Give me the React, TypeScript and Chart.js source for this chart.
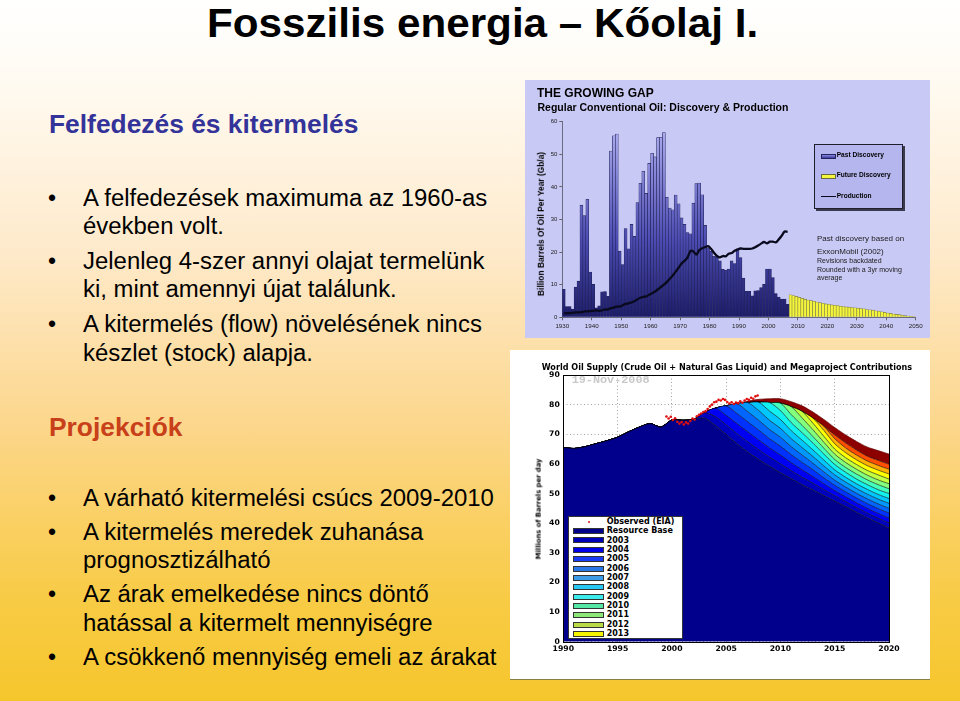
import React, { useEffect, useRef } from "react";
import { Chart, registerables } from "chart.js";

Chart.register(...registerables);

const FONT = "'Liberation Sans', Arial, Helvetica, sans-serif";
const MFONT = "'DejaVu Sans', Verdana, sans-serif";

// ---------------- Top chart: THE GROWING GAP ----------------
const GAP_TICKS = [1930, 1940, 1950, 1960, 1970, 1980, 1990, 2000, 2010, 2020, 2030, 2040, 2050];
const GAP_Y_TICKS = [0, 10, 20, 30, 40, 50, 60];

const PAST_DISCOVERY_START = 1930;
const PAST_DISCOVERY = [
  8.6, 3.3, 3.3, 2.5, 9.3, 11.1, 34.4, 31.2, 36.2, 13.9,
  10.1, 2.9, 3.5, 7.8, 7.9, 6.4, 51.0, 55.7, 56.2, 20.3,
  16.2, 27.2, 21.0, 28.5, 24.8, 35.2, 41.1, 44.8, 38.0, 47.2,
  50.3, 49.2, 55.1, 55.2, 56.7, 36.8, 33.5, 33.0, 37.5, 34.8,
  30.5, 28.5, 26.0, 25.6, 35.0, 41.0, 41.2, 37.6, 28.2, 21.3,
  20.3, 18.7, 18.5, 17.3, 14.7, 14.5, 14.8, 17.3, 16.5, 21.0,
  18.3, 12.0, 8.0, 8.0, 6.6, 8.1, 8.2, 9.1, 10.1, 14.8,
  14.8, 12.2, 7.3, 6.2, 5.6, 5.6, 4.0,
];

const FUTURE_DISCOVERY_START = 2007;
const FUTURE_DISCOVERY = [
  6.9, 6.7, 6.4, 6.1, 5.8, 5.5, 5.3, 5.1, 4.9, 4.7,
  4.5, 4.3, 4.1, 4.0, 3.8, 3.7, 3.6, 3.4, 3.3, 3.2,
  3.1, 3.0, 2.9, 2.8, 2.7, 2.6, 2.4, 2.3, 2.2, 2.0,
  1.9, 1.7, 1.5, 1.3, 1.2, 1.0, 0.9, 0.8, 0.6, 0.5,
  0.4, 0.3, 0.2,
];

const PRODUCTION_START = 1930;
const PRODUCTION = [
  1.2, 1.3, 1.3, 1.4, 1.5, 1.5, 1.6, 1.8, 1.8, 1.9,
  2.0, 2.1, 2.0, 2.1, 2.4, 2.4, 2.8, 3.0, 3.3, 3.3,
  3.7, 4.1, 4.3, 4.6, 4.9, 5.5, 6.0, 6.3, 6.4, 6.9,
  7.4, 7.9, 8.6, 9.3, 10.0, 10.8, 11.8, 12.8, 14.0, 15.2,
  16.5, 17.3, 18.3, 20.3, 20.2, 19.2, 20.6, 21.2, 21.5, 21.8,
  21.0, 19.8, 18.8, 18.4, 18.8, 18.7, 19.5, 19.7, 20.4, 20.8,
  21.1, 21.0, 21.0, 21.0, 21.1, 21.5, 22.0, 22.6, 23.1, 22.7,
  23.2, 23.2, 23.0, 23.9, 25.0, 26.3, 26.2,
];

// ---------------- Bottom chart: World Oil Supply ----------------
const SUPPLY_START = 1990;
const SUPPLY_X_TICKS = [1990, 1995, 2000, 2005, 2010, 2015, 2020];
const SUPPLY_Y_TICKS = [0, 10, 20, 30, 40, 50, 60, 70, 80, 90];

const RESOURCE_BASE = [
  65.5, 65.2, 65.8, 66.8, 67.8, 69.0, 70.8, 72.4, 73.6, 72.4,
  74.8, 74.7, 75.0, 75.5, 73.0, 70.0, 66.8, 64.0, 61.5, 59.2,
  57.0, 55.0, 53.0, 51.2, 49.3, 47.5, 45.6, 43.7, 41.8, 40.1,
  38.4,
];

// megaproject layers, values for 2003..2020
const MEGA_START = 2003;
const MEGA_2003 = [1.8, 3.0, 3.2, 3.4, 3.4, 3.3, 3.1, 3.0, 2.7, 2.5, 2.3, 2.0, 1.8, 1.7, 1.6, 1.6, 1.6, 1.7];
const MEGA_2004 = [0, 2.8, 3.2, 3.4, 3.4, 3.3, 3.1, 3.0, 2.7, 2.5, 2.2, 2.0, 1.7, 1.6, 1.6, 1.6, 1.6, 1.6];
const MEGA_2005 = [0, 0, 3.2, 3.4, 3.4, 3.3, 3.1, 3.0, 2.7, 2.5, 2.3, 2.0, 1.8, 1.7, 1.6, 1.6, 1.6, 1.7];
const MEGA_2006 = [0, 0, 0, 3.3, 3.4, 3.3, 3.1, 3.0, 2.7, 2.5, 2.2, 2.0, 1.7, 1.6, 1.6, 1.6, 1.6, 1.6];
const MEGA_2007 = [0, 0, 0, 0, 3.1, 3.3, 3.1, 3.0, 2.7, 2.5, 2.3, 2.0, 1.8, 1.7, 1.6, 1.6, 1.6, 1.7];
const MEGA_2008 = [0, 0, 0, 0, 0, 2.8, 3.1, 3.0, 2.7, 2.5, 2.2, 2.0, 1.7, 1.6, 1.6, 1.6, 1.6, 1.6];
const MEGA_2009 = [0, 0, 0, 0, 0, 0, 2.9, 3.0, 2.7, 2.5, 2.3, 2.0, 1.8, 1.7, 1.6, 1.6, 1.6, 1.7];
const MEGA_2010 = [0, 0, 0, 0, 0, 0, 0, 2.5, 2.7, 2.5, 2.2, 2.0, 1.7, 1.6, 1.7, 1.6, 1.7, 1.6];
const MEGA_2011 = [0, 0, 0, 0, 0, 0, 0, 0, 2.7, 2.5, 2.3, 2.0, 1.8, 1.7, 1.6, 1.6, 1.6, 1.7];
const MEGA_2012 = [0, 0, 0, 0, 0, 0, 0, 0, 0, 2.2, 2.2, 2.0, 1.7, 1.6, 1.6, 1.6, 1.7, 1.6];
const MEGA_2013 = [0, 0, 0, 0, 0, 0, 0, 0, 0, 0, 1.7, 2.0, 1.8, 1.7, 1.6, 1.6, 1.6, 1.7];
const MEGA_2014 = [0, 0, 0, 0, 0, 0, 0, 0, 0, 0, 0, 1.4, 1.7, 1.6, 1.6, 1.6, 1.6, 1.6];
const MEGA_2015 = [0, 0, 0, 0, 0, 0, 0, 0, 0, 0, 0, 0, 1.3, 1.7, 1.7, 1.6, 1.7, 1.7];
const MEGA_TOP = [0, 0, 0, 0, 0.5, 1.0, 1.3, 1.5, 1.7, 1.9, 2.1, 2.3, 2.5, 2.7, 2.9, 3.1, 3.3, 3.4];

const OBSERVED_EIA: [number, number][] = [
  [1999.5, 76.0], [1999.7, 75.3], [1999.9, 75.9], [2000.1, 74.8], [2000.3, 75.4], [2000.5, 74.2],
  [2000.7, 73.6], [2000.9, 74.1], [2001.1, 73.3], [2001.3, 74.0], [2001.5, 73.6], [2001.7, 74.5],
  [2001.9, 75.3], [2002.1, 75.0], [2002.3, 76.1], [2002.5, 76.6], [2002.7, 77.0], [2002.9, 77.5],
  [2003.1, 77.8], [2003.3, 78.5], [2003.5, 79.4], [2003.7, 80.0], [2003.9, 80.8], [2004.1, 81.0],
  [2004.3, 81.6], [2004.5, 81.4], [2004.7, 81.9], [2004.9, 81.6], [2005.1, 80.9], [2005.3, 80.4],
  [2005.5, 80.8], [2005.7, 80.2], [2005.9, 80.7], [2006.1, 80.5], [2006.3, 81.1], [2006.5, 80.6],
  [2006.7, 81.4], [2006.9, 81.9], [2007.1, 81.6], [2007.3, 82.3], [2007.5, 82.0], [2007.7, 82.8],
  [2007.9, 83.1],
];

const LAYERS = [
  { label: "Resource Base", color: "#00008c", legend: "#00008c" },
  { label: "2003", color: "#0000c0", legend: "#0000b8", values: MEGA_2003 },
  { label: "2004", color: "#0000f2", legend: "#0000e8", values: MEGA_2004 },
  { label: "2005", color: "#0032ff", legend: "#1a3cf5", values: MEGA_2005 },
  { label: "2006", color: "#0066ff", legend: "#2a78e6", values: MEGA_2006 },
  { label: "2007", color: "#0098ff", legend: "#3c9ce8", values: MEGA_2007 },
  { label: "2008", color: "#00c8ff", legend: "#28c8f0", values: MEGA_2008 },
  { label: "2009", color: "#12f0f0", legend: "#3cecec", values: MEGA_2009 },
  { label: "2010", color: "#44ffbc", legend: "#55e6a5", values: MEGA_2010 },
  { label: "2011", color: "#84ff7c", legend: "#8ce678", values: MEGA_2011 },
  { label: "2012", color: "#c2ff3e", legend: "#b9dc46", values: MEGA_2012 },
  { label: "2013", color: "#ffff00", legend: "#f5f500", values: MEGA_2013 },
  { label: "2014", color: "#ffb000", legend: "", values: MEGA_2014 },
  { label: "2015", color: "#ff4e00", legend: "", values: MEGA_2015 },
  { label: "2016+", color: "#8c0000", legend: "", values: MEGA_TOP },
];

// ---------------------------------------------------------------
const frame = {
  id: "frame",
  afterDraw(chart: any) {
    const { ctx, chartArea: a } = chart;
    ctx.save();
    ctx.strokeStyle = "#000";
    ctx.lineWidth = 1;
    ctx.strokeRect(Math.round(a.left) + 0.5, Math.round(a.top) + 0.5, Math.round(a.right - a.left), Math.round(a.bottom - a.top));
    ctx.restore();
  },
};

function topConfig(): any {
  const past = PAST_DISCOVERY.map((v, i) => ({ x: PAST_DISCOVERY_START + i + 0.5, y: v }));
  const future = FUTURE_DISCOVERY.map((v, i) => ({ x: FUTURE_DISCOVERY_START + i + 0.5, y: v }));
  const prod = PRODUCTION.map((v, i) => ({ x: PRODUCTION_START + i + 0.5, y: v }));
  const barGrad = (ctx: any) => {
    const chart = ctx.chart;
    const a = chart.chartArea;
    if (!a) return "#5555bb";
    const g = chart.ctx.createLinearGradient(0, a.bottom, 0, a.top);
    g.addColorStop(0, "#1b1b68");
    g.addColorStop(0.4, "#4d4db4");
    g.addColorStop(1, "#b4b4f4");
    return g;
  };
  return {
    type: "bar",
    data: {
      datasets: [
        {
          type: "line",
          label: "Production",
          data: prod,
          borderColor: "#0a0a1e",
          borderWidth: 2.3,
          pointRadius: 0,
          tension: 0.3,
          order: -1,
        },
        {
          label: "Past Discovery",
          data: past,
          backgroundColor: barGrad,
          borderColor: "#22225a",
          borderWidth: 0.6,
          barPercentage: 1,
          categoryPercentage: 1,
          grouped: false,
        },
        {
          label: "Future Discovery",
          data: future,
          backgroundColor: "#f4f43a",
          borderColor: "#7c7c4c",
          borderWidth: 0.6,
          barPercentage: 1,
          categoryPercentage: 1,
          grouped: false,
        },
      ],
    },
    options: {
      animation: false,
      responsive: false,
      maintainAspectRatio: false,
      layout: { padding: { top: 41.7, right: 14.3, left: 0, bottom: 0 } },
      plugins: { legend: { display: false }, tooltip: { enabled: false } },
      scales: {
        x: {
          type: "linear",
          offset: false,
          min: GAP_TICKS[0],
          max: GAP_TICKS[GAP_TICKS.length - 1],
          afterBuildTicks: (s: any) => {
            s.ticks = GAP_TICKS.map((v) => ({ value: v }));
          },
          ticks: {
            callback: (v: any) => String(v),
            font: { family: FONT, size: 6.2 },
            color: "#222",
            padding: 2,
            maxRotation: 0,
            autoSkip: false,
          },
          grid: { offset: false, drawOnChartArea: false, drawTicks: true, tickLength: 3, color: "#666" },
          border: { color: "#6a6a80", width: 1 },
          afterFit: (s: any) => {
            s.height = 20.7;
          },
        },
        y: {
          min: 0,
          max: 60,
          afterBuildTicks: (s: any) => {
            s.ticks = GAP_Y_TICKS.map((v) => ({ value: v }));
          },
          ticks: { font: { family: FONT, size: 6 }, color: "#222", padding: 2 },
          grid: { drawOnChartArea: false, drawTicks: true, tickLength: 3, color: "#666" },
          border: { color: "#6a6a80", width: 1 },
          afterFit: (s: any) => {
            s.width = 37.3;
          },
        },
      },
    },
  };
}

function bottomConfig(): any {
  const years = RESOURCE_BASE.map((_, i) => SUPPLY_START + i);
  const datasets: any[] = LAYERS.map((layer, li) => {
    const data = years.map((yr, i) => {
      if (li === 0) return { x: yr, y: RESOURCE_BASE[i] };
      const k = yr - MEGA_START;
      return { x: yr, y: k >= 0 ? (layer.values as number[])[k] : 0 };
    });
    return {
      label: layer.label,
      data,
      backgroundColor: layer.color,
      borderColor: li === LAYERS.length - 1 ? "#5a0000" : "#000",
      borderWidth: 0.6,
      pointRadius: 0,
      fill: li === 0 ? "origin" : "-1",
      tension: 0.25,
      stack: "supply",
    };
  });
  datasets.push({
    label: "Observed (EIA)",
    data: OBSERVED_EIA.map(([x, y]) => ({ x, y })),
    showLine: false,
    pointRadius: 1.3,
    pointBorderWidth: 0,
    pointBackgroundColor: "#e01010",
    borderColor: "#e01010",
    fill: false,
    stack: "observed",
    order: -1,
  });
  return {
    type: "line",
    data: { datasets },
    options: {
      animation: false,
      responsive: false,
      maintainAspectRatio: false,
      layout: { padding: { top: 25, right: 41, left: 0, bottom: 0 } },
      plugins: { legend: { display: false }, tooltip: { enabled: false } },
      scales: {
        x: {
          type: "linear",
          min: SUPPLY_X_TICKS[0],
          max: SUPPLY_X_TICKS[SUPPLY_X_TICKS.length - 1],
          afterBuildTicks: (s: any) => {
            s.ticks = SUPPLY_X_TICKS.map((v) => ({ value: v }));
          },
          ticks: {
            callback: (v: any) => String(v),
            font: { family: MFONT, size: 7.7, weight: "bold" },
            color: "#000",
            padding: 3,
            maxRotation: 0,
            autoSkip: false,
          },
          grid: { color: "#8a8a8a", lineWidth: 0.8, drawTicks: false },
          border: { display: false, dash: [1, 2.5] },
          afterFit: (s: any) => {
            s.height = 37.3;
          },
        },
        y: {
          stacked: true,
          min: 0,
          max: 90,
          afterBuildTicks: (s: any) => {
            s.ticks = SUPPLY_Y_TICKS.map((v) => ({ value: v }));
          },
          ticks: {
            font: { family: MFONT, size: 7.7, weight: "bold" },
            color: "#000",
            padding: 3.5,
          },
          grid: { color: "#8a8a8a", lineWidth: 0.8, drawTicks: false },
          border: { display: false, dash: [1, 2.5] },
          afterFit: (s: any) => {
            s.width = 53.3;
          },
        },
      },
    },
    plugins: [frame],
  };
}

// ---------------------------------------------------------------
type TxtProps = {
  x: number;
  base: number;
  size: number;
  bold?: boolean;
  color?: string;
  family?: string;
  sx?: number;
  style?: React.CSSProperties;
  children: React.ReactNode;
};

function Txt({ x, base, size, bold = false, color = "#000", family = FONT, sx = 1, style = {}, children }: TxtProps) {
  return (
    <div
      style={{
        position: "absolute",
        left: x,
        top: base - 0.846 * size,
        fontSize: size,
        lineHeight: `${size}px`,
        fontFamily: family,
        fontWeight: bold ? 700 : 400,
        color,
        whiteSpace: "nowrap",
        transform: sx !== 1 ? `scaleX(${sx})` : undefined,
        transformOrigin: "0 0",
        ...style,
      }}
    >
      {children}
    </div>
  );
}

function VTxt({ cx, cy, size, bold = true, family = FONT, children }: any) {
  return (
    <div
      style={{
        position: "absolute",
        left: cx,
        top: cy,
        fontSize: size,
        lineHeight: `${size}px`,
        fontFamily: family,
        fontWeight: bold ? 700 : 400,
        color: "#000",
        whiteSpace: "nowrap",
        transform: "translate(-50%, -50%) rotate(-90deg)",
      }}
    >
      {children}
    </div>
  );
}

const BULLET_SIZE = 23;
const BULLET_SX = 1.04;
const HEAD_SIZE = 25;
const HEAD_SX = 1.055;

function Bullet({ base }: { base: number }) {
  return (
    <Txt x={48} base={base} size={BULLET_SIZE}>
      •
    </Txt>
  );
}

function Line({ base, children }: { base: number; children: React.ReactNode }) {
  return (
    <Txt x={83.3} base={base} size={BULLET_SIZE} sx={BULLET_SX}>
      {children}
    </Txt>
  );
}

export default function App() {
  const topRef = useRef<HTMLCanvasElement>(null);
  const botRef = useRef<HTMLCanvasElement>(null);

  useEffect(() => {
    const c1 = new Chart(topRef.current as HTMLCanvasElement, topConfig());
    const c2 = new Chart(botRef.current as HTMLCanvasElement, bottomConfig());
    return () => {
      c1.destroy();
      c2.destroy();
    };
  }, []);

  const legendRows = LAYERS.filter((l) => l.legend !== "");
  const LEG_Y0 = 521.7;
  const LEG_DY = 9.36;

  return (
    <div
      style={{
        position: "absolute",
        left: 0,
        top: 0,
        width: 960,
        height: 701,
        overflow: "hidden",
        background:
          "linear-gradient(180deg, #ffffff 0px, #fffcf6 60px, #fff4e2 150px, #feeacb 250px, #fde0ab 340px, #fcd68a 430px, #fad064 520px, #f8cb45 600px, #f6c62c 701px)",
        fontFamily: FONT,
      }}
    >
      {/* Slide title */}
      <Txt x={207} base={36.5} size={40} bold sx={1.055}>
        Fosszilis energia – Kőolaj I.
      </Txt>

      {/* Section 1 */}
      <Txt x={48.5} base={132.7} size={HEAD_SIZE} bold color="#333399" sx={HEAD_SX}>
        Felfedezés és kitermelés
      </Txt>
      <Bullet base={206} />
      <Line base={206}>A felfedezések maximuma az 1960-as</Line>
      <Line base={234.5}>években volt.</Line>
      <Bullet base={269.3} />
      <Line base={269.3}>Jelenleg 4-szer annyi olajat termelünk</Line>
      <Line base={297.7}>ki, mint amennyi újat találunk.</Line>
      <Bullet base={332.7} />
      <Line base={332.7}>A kitermelés (flow) növelésének nincs</Line>
      <Line base={361.3}>készlet (stock) alapja.</Line>

      {/* Section 2 */}
      <Txt x={48.5} base={436} size={HEAD_SIZE} bold color="#c8401a" sx={HEAD_SX}>
        Projekciók
      </Txt>
      <Bullet base={506} />
      <Line base={506}>A várható kitermelési csúcs 2009-2010</Line>
      <Bullet base={540} />
      <Line base={540}>A kitermelés meredek zuhanása</Line>
      <Line base={568.5}>prognosztizálható</Line>
      <Bullet base={602.7} />
      <Line base={602.7}>Az árak emelkedése nincs döntő</Line>
      <Line base={631}>hatással a kitermelt mennyiségre</Line>
      <Bullet base={665} />
      <Line base={665}>A csökkenő mennyiség emeli az árakat</Line>

      {/* ---------- Top chart ---------- */}
      <div style={{ position: "absolute", left: 525, top: 80, width: 405, height: 258, background: "#c9c9f5" }}>
        <canvas ref={topRef} width={405} height={258} style={{ display: "block", width: 405, height: 258 }} />
      </div>
      <Txt x={537} base={97.3} size={12} bold>THE GROWING GAP</Txt>
      <Txt x={537.5} base={110.7} size={10.5} bold>Regular Conventional Oil: Discovery &amp; Production</Txt>
      <VTxt cx={541} cy={224} size={8.4}>Billion Barrels Of Oil Per Year (Gb/a)</VTxt>

      {/* legend */}
      <div
        style={{
          position: "absolute",
          left: 814,
          top: 144,
          width: 87,
          height: 63,
          background: "#b6b6ef",
          border: "1px solid #1e1e2e",
          boxShadow: "2px 2px 0 #3a3a4a",
        }}
      />
      <div
        style={{
          position: "absolute",
          left: 821,
          top: 153.5,
          width: 13,
          height: 3,
          background: "linear-gradient(180deg, #8a8ae0, #3a3a9c)",
          border: "0.8px solid #22225a",
        }}
      />
      <div style={{ position: "absolute", left: 821, top: 174.2, width: 13, height: 3, background: "#f4f43a", border: "0.8px solid #6a6a40" }} />
      <div style={{ position: "absolute", left: 821, top: 195.5, width: 15, height: 1.8, background: "#0a0a1e" }} />
      <Txt x={836.7} base={157.3} size={6.6} bold>Past Discovery</Txt>
      <Txt x={836.7} base={178} size={6.6} bold>Future Discovery</Txt>
      <Txt x={836.7} base={198.6} size={6.6} bold>Production</Txt>

      {/* annotation */}
      <Txt x={817} base={242.2} size={8} color="#1a1a1a">Past discovery based on</Txt>
      <Txt x={817} base={255.2} size={8} color="#1a1a1a">ExxonMobil (2002)</Txt>
      <Txt x={817} base={263.3} size={7} color="#1a1a1a">Revisions backdated</Txt>
      <Txt x={817} base={271.8} size={7} color="#1a1a1a">Rounded with a 3yr moving</Txt>
      <Txt x={817} base={280.2} size={7} color="#1a1a1a">average</Txt>

      {/* ---------- Bottom chart ---------- */}
      <div
        style={{
          position: "absolute",
          left: 510,
          top: 350,
          width: 420,
          height: 330,
          background: "#ffffff",
          borderBottom: "1px solid #8c8040",
          boxSizing: "border-box",
        }}
      >
        <canvas ref={botRef} width={420} height={329} style={{ display: "block", width: 420, height: 329 }} />
      </div>
      <Txt x={541.7} base={369.4} size={8.1} bold family={MFONT}>
        World Oil Supply (Crude Oil + Natural Gas Liquid) and Megaproject Contributions
      </Txt>
      <Txt x={571.7} base={384.6} size={11.8} bold family="'Liberation Mono', 'DejaVu Sans Mono', monospace" color="#c9c9c9">
        19-Nov-2008
      </Txt>
      <VTxt cx={539} cy={509} size={6.8} family={MFONT}>Millions of Barrels per day</VTxt>

      {/* legend box */}
      <div
        style={{
          position: "absolute",
          left: 568.3,
          top: 516,
          width: 114.4,
          height: 123.3,
          background: "#fff",
          border: "1px solid #333",
          boxSizing: "border-box",
        }}
      />
      <div
        style={{
          position: "absolute",
          left: 588,
          top: LEG_Y0 - 1,
          width: 2,
          height: 2,
          borderRadius: 1,
          background: "#e01010",
        }}
      />
      <Txt x={606.7} base={LEG_Y0 + 2.9} size={8} bold family={MFONT}>Observed (EIA)</Txt>
      {legendRows.map((l, i) => {
        const cy = LEG_Y0 + LEG_DY * (i + 1);
        return (
          <React.Fragment key={l.label}>
            <div
              style={{
                position: "absolute",
                left: 573.3,
                top: cy - 3,
                width: 30.7,
                height: 6,
                background: l.legend,
                border: "1px solid #333",
                boxSizing: "border-box",
              }}
            />
            <Txt x={606.7} base={cy + 2.9} size={8} bold family={MFONT}>
              {l.label}
            </Txt>
          </React.Fragment>
        );
      })}
    </div>
  );
}
